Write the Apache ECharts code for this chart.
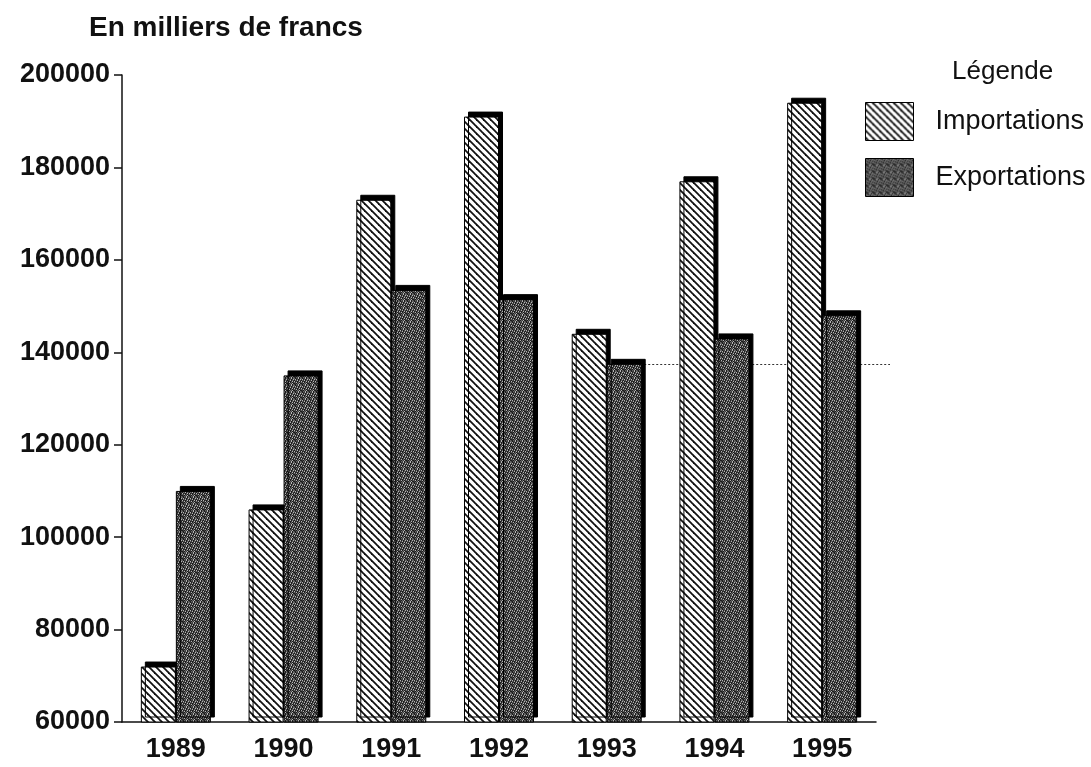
<!DOCTYPE html>
<html>
<head>
<meta charset="utf-8">
<script src="https://cdn.jsdelivr.net/npm/echarts@6/dist/echarts.min.js"></script>
<style>
  html, body { margin: 0; padding: 0; background: #fff; }
  #chart { width: 1091px; height: 767px; }
</style>
</head>
<body>
<div id="chart"></div>
<script>
const years = ["1989", "1990", "1991", "1992", "1993", "1994", "1995"]
const importations = [72000, 106000, 173000, 191000, 144000, 177000, 194000]
const exportations = [110000, 135000, 153500, 151500, 137500, 143000, 148000]
const yTicks = { min: 60000, max: 200000, interval: 20000 }
const refLevel = 137500 // ligne pointillée

const FONT = "Liberation Sans"

// motif hachuré (importations)
function hatchPattern(){
  const s = 7
  const c = document.createElement("canvas")
  c.width = s; c.height = s
  const ctx = c.getContext("2d")
  ctx.fillStyle = "#fff"
  ctx.fillRect(0, 0, s, s)
  ctx.strokeStyle = "#111"
  ctx.lineWidth = 1.8
  ;[-s, 0, s].forEach(o => {
    ctx.beginPath()
    ctx.moveTo(o - 1, -1)
    ctx.lineTo(o + s + 1, s + 1)
    ctx.stroke()
  })
  return c
}

// motif pointillé sombre (exportations)
function stipplePattern(){
  const grid = [
    "2011302",
    "1302013",
    "0213021",
    "3010130",
    "2130201",
    "0102130",
    "1021302"
  ]
  const tones = ["#1c1c1c", "#3c3c3c", "#666", "#b4b4b4"]
  const c = document.createElement("canvas")
  c.width = 7; c.height = 7
  const ctx = c.getContext("2d")
  grid.forEach((row, y) => {
    row.split("").forEach((v, x) => {
      ctx.fillStyle = tones[+v]
      ctx.fillRect(x, y, 1, 1)
    })
  })
  return c
}

const hatch = { image: hatchPattern(), repeat: "repeat" }
const stipple = { image: stipplePattern(), repeat: "repeat" }

const barStyle = (fill) => ({
  color: fill,
  borderColor: "#000",
  borderWidth: 1,
  shadowColor: "#000",
  shadowBlur: 0,
  shadowOffsetX: 4,
  shadowOffsetY: -5
})

const chart = echarts.init(document.getElementById("chart"), null, { renderer: "canvas" })

const option = {
  animation: false,
  backgroundColor: "#fff",
  textStyle: { fontFamily: FONT, color: "#111" },
  title: [
    {
      text: "En milliers de francs",
      left: 84, top: 9,
      textStyle: { fontFamily: FONT, fontSize: 28, fontWeight: "bold", color: "#111" }
    },
    {
      text: "Légende",
      left: 947, top: 54,
      textStyle: { fontFamily: FONT, fontSize: 26, fontWeight: "normal", color: "#111" }
    }
  ],
  legend: {
    orient: "vertical",
    left: 865, top: 102,
    padding: 0,
    itemWidth: 48, itemHeight: 38, itemGap: 17,
    icon: "rect",
    itemStyle: { borderColor: "#000", borderWidth: 1, shadowColor: "transparent" },
    textStyle: { fontFamily: FONT, fontSize: 27, color: "#111", padding: [8, 0, 0, 17] },
    data: ["Importations", "Exportations"]
  },
  grid: { left: 122, right: 215, top: 75, bottom: 45, containLabel: false },
  xAxis: {
    type: "category",
    data: years,
    axisLine: { lineStyle: { color: "#111", width: 1.5 } },
    axisTick: { alignWithLabel: true, length: 5, lineStyle: { color: "#111", width: 1.5 } },
    axisLabel: { fontFamily: FONT, fontSize: 27, fontWeight: "bold", color: "#111", margin: 14 }
  },
  yAxis: {
    type: "value",
    min: yTicks.min, max: yTicks.max, interval: yTicks.interval,
    splitLine: { show: false },
    axisLine: { show: true, lineStyle: { color: "#111", width: 1.5 } },
    axisTick: { show: true, length: 8, lineStyle: { color: "#111", width: 1.5 } },
    axisLabel: {
      fontFamily: FONT, fontSize: 27, fontWeight: "bold", color: "#111", margin: 12,
      formatter: (v) => String(v)
    }
  },
  series: [
    {
      name: "Importations",
      type: "bar",
      data: importations,
      barWidth: 35,
      barGap: "0%",
      itemStyle: barStyle(hatch)
    },
    {
      name: "Exportations",
      type: "bar",
      data: exportations,
      barWidth: 35,
      itemStyle: barStyle(stipple)
    }
  ]
}

chart.setOption(option)

// ligne pointillée: du bloc 1993 jusqu'au-delà de l'axe
const yPx = chart.convertToPixel({ yAxisIndex: 0 }, refLevel)
chart.setOption({
  series: [
    {},
    {
      markLine: {
        silent: true,
        z: 1,
        symbol: ["none", "none"],
        label: { show: false },
        lineStyle: { color: "#333", type: [2, 2], width: 1.2 },
        data: [[{ coord: ["1993", refLevel] }, { x: 890, y: yPx }]]
      }
    }
  ]
})
</script>
</body>
</html>
